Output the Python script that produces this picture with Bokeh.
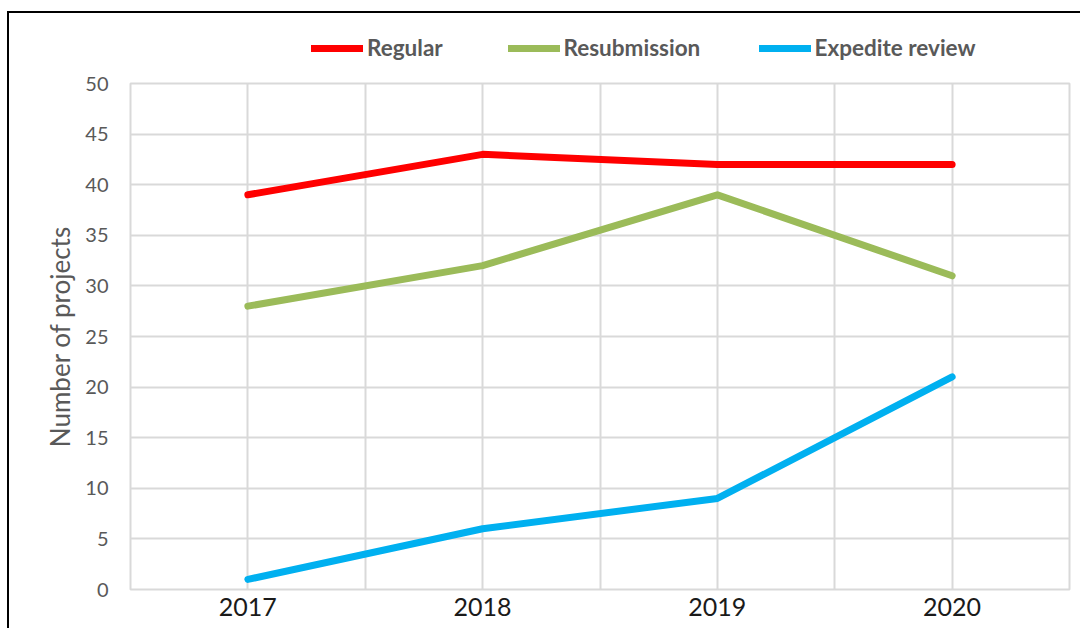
from bokeh.plotting import figure
from bokeh.layouts import column
from bokeh.models import Range1d, FixedTicker, Legend, LegendItem
from bokeh.embed import file_html
from bokeh.resources import INLINE

years = [2017, 2018, 2019, 2020]
regular = [39, 43, 42, 42]
resubmission = [28, 32, 39, 31]
expedite = [1, 6, 9, 21]
y_ticks = [0, 5, 10, 15, 20, 25, 30, 35, 40, 45, 50]
x_grid = [2016.5, 2017, 2017.5, 2018, 2018.5, 2019, 2019.5, 2020, 2020.5]
series_names = ["Regular", "Resubmission", "Expedite review"]
series_colors = ["#FF0000", "#9BBB59", "#00B0F0"]
series_values = [regular, resubmission, expedite]

W = 1071

# ---- legend strip (top) ----
top = figure(width=W, height=55, output_backend="svg", toolbar_location=None,
             x_range=Range1d(2016.5, 2020.5), y_range=Range1d(100, 101),
             x_axis_type=None, y_axis_type=None,
             min_border_left=121, min_border_right=11, min_border_top=0, min_border_bottom=0)
top.outline_line_color = None
top.grid.grid_line_color = None
legend_x = [181, 377.5, 628.5]
for vals, name, col, lx in zip(series_values, series_names, series_colors, legend_x):
    r = top.line(years, vals, line_color=col, line_width=7, line_cap="round", line_join="round")
    lg = Legend(items=[LegendItem(label=name, renderers=[r])], location=(lx, 7),
                orientation="horizontal", margin=0, padding=0, spacing=0,
                glyph_width=52, glyph_height=20, label_height=20, label_standoff=4,
                label_text_font="Lato", label_text_font_size="22.5px",
                label_text_font_style="bold", label_text_color="#595959",
                border_line_alpha=0, background_fill_alpha=0)
    top.add_layout(lg)

# ---- main chart ----
p = figure(width=W, height=560, output_backend="svg", toolbar_location=None,
           x_range=Range1d(2016.5, 2020.5), y_range=Range1d(0, 50),
           min_border_left=121, min_border_right=11, min_border_top=15, min_border_bottom=39)
p.outline_line_color = "#d9d9d9"
p.outline_line_width = 2

p.xaxis.ticker = FixedTicker(ticks=years)
p.yaxis.ticker = FixedTicker(ticks=y_ticks)
for ax in (p.xaxis[0], p.yaxis[0]):
    ax.axis_line_color = None
    ax.major_tick_line_color = None
    ax.minor_tick_line_color = None
    ax.major_tick_out = 0
    ax.major_tick_in = 0
    ax.minor_tick_out = 0
    ax.minor_tick_in = 0
p.xaxis.major_label_text_font = "Lato"
p.xaxis.major_label_text_font_size = "25px"
p.xaxis.major_label_text_color = "#1a1a1a"
p.xaxis.major_label_standoff = 8
p.yaxis.major_label_text_font = "Lato"
p.yaxis.major_label_text_font_size = "20px"
p.yaxis.major_label_text_color = "#595959"
p.yaxis.major_label_standoff = 22
p.yaxis.axis_label = "Number of projects"
p.yaxis.axis_label_text_font = "Lato"
p.yaxis.axis_label_text_font_size = "26px"
p.yaxis.axis_label_text_font_style = "normal"
p.yaxis.axis_label_text_color = "#595959"
p.yaxis.axis_label_standoff = 6

p.ygrid.ticker = FixedTicker(ticks=y_ticks)
p.xgrid.ticker = FixedTicker(ticks=x_grid)
for g in (p.xgrid[0], p.ygrid[0]):
    g.grid_line_color = "#d9d9d9"
    g.grid_line_width = 2

for vals, col in zip(series_values, series_colors):
    p.line(years, vals, line_color=col, line_width=7, line_cap="round", line_join="round")

layout = column(top, p, spacing=0)
layout.styles = {"border-left": "2px solid black", "border-top": "2px solid black",
                 "margin-left": "7px", "margin-top": "11px"}

open("out.html", "w").write(file_html(layout, INLINE))
